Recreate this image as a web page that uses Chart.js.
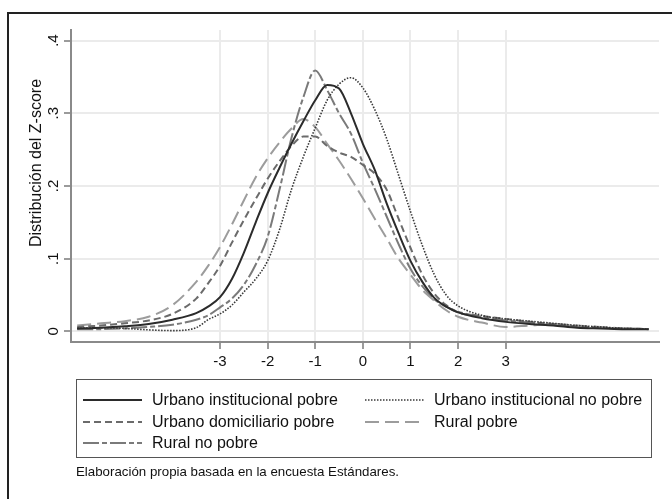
<!DOCTYPE html>
<html>
<head>
<meta charset="utf-8">
<script src="https://cdn.jsdelivr.net/npm/chart.js@4.4.1/dist/chart.umd.min.js"></script>
<style>
  body { margin: 0; background: #fff; font-family: "Liberation Sans", Arial, sans-serif; }
  #frame { position: absolute; left: 7px; top: 12px; width: 700px; height: 520px; border-left: 2px solid #222; border-top: 2px solid #222; }
  #wrap { position: absolute; left: 0; top: 0; width: 672px; height: 380px; }
  #ytitle { position: absolute; left: -64px; top: 153px; width: 200px; height: 20px; line-height: 20px; text-align: center;
    font-size: 16px; color: #111; transform: rotate(-90deg); white-space: nowrap; }
  #legend { position: absolute; left: 76px; top: 379px; width: 576px; height: 79px; box-sizing: border-box; border: 1.5px solid #555; }
  .item { position: absolute; height: 20px; display: flex; align-items: center; font-size: 16px; color: #111; white-space: nowrap; }
  .item svg { margin-right: 10px; }
  #note { position: absolute; left: 76px; top: 464px; font-size: 13.3px; color: #111; }
</style>
</head>
<body>
<div id="frame"></div>
<div id="wrap"><canvas id="chart" width="672" height="380"></canvas></div>
<div id="ytitle">Distribución del Z-score</div>
<div id="legend"></div>
<div id="note">Elaboración propia basada en la encuesta Estándares.</div>
<script>
// z-score grid where each density was read
const zValues = [-6, -5.5, -5, -4.5, -4, -3.5, -3.25, -3, -2.75, -2.5, -2.25, -2, -1.75, -1.5, -1.25, -1,
  -0.75, -0.5, -0.25, 0, 0.25, 0.5, 0.75, 1, 1.25, 1.5, 1.75, 2, 2.5, 3, 3.5, 4, 4.5, 5, 5.5, 6];

const urbInstPobre = [0.004, 0.005, 0.007, 0.010, 0.016, 0.025, 0.034, 0.047, 0.072, 0.108, 0.150, 0.190,
  0.225, 0.258, 0.289, 0.318, 0.339, 0.334, 0.300, 0.258, 0.222, 0.176, 0.135, 0.097, 0.068, 0.046,
  0.034, 0.026, 0.018, 0.013, 0.010, 0.008, 0.005, 0.004, 0.003, 0.003];
const urbInstNoPobre = [0.004, 0.005, 0.004, 0.002, 0.001, 0.005, 0.016, 0.024, 0.036, 0.054, 0.072, 0.097,
  0.140, 0.195, 0.240, 0.280, 0.318, 0.340, 0.349, 0.335, 0.305, 0.265, 0.215, 0.165, 0.118, 0.078,
  0.050, 0.035, 0.022, 0.017, 0.014, 0.011, 0.008, 0.006, 0.004, 0.003];
const urbDomPobre = [0.006, 0.008, 0.011, 0.015, 0.024, 0.045, 0.066, 0.090, 0.122, 0.153, 0.182, 0.210,
  0.234, 0.255, 0.268, 0.268, 0.255, 0.246, 0.240, 0.229, 0.217, 0.195, 0.155, 0.115, 0.078, 0.052,
  0.036, 0.026, 0.021, 0.017, 0.013, 0.010, 0.007, 0.005, 0.004, 0.003];
const ruralPobre = [0.008, 0.011, 0.014, 0.020, 0.036, 0.068, 0.090, 0.116, 0.147, 0.180, 0.212, 0.238,
  0.260, 0.279, 0.292, 0.281, 0.258, 0.235, 0.210, 0.183, 0.155, 0.128, 0.100, 0.078, 0.057, 0.042,
  0.029, 0.020, 0.012, 0.006, 0.008, 0.010, 0.008, 0.006, 0.004, 0.003];
const ruralNoPobre = [0.003, 0.003, 0.004, 0.006, 0.009, 0.016, 0.022, 0.033, 0.045, 0.064, 0.092, 0.130,
  0.195, 0.266, 0.322, 0.359, 0.332, 0.300, 0.272, 0.232, 0.196, 0.158, 0.120, 0.086, 0.062, 0.044,
  0.034, 0.027, 0.020, 0.015, 0.012, 0.010, 0.007, 0.005, 0.004, 0.003];

const seriesNames = ['Urbano institucional pobre', 'Urbano institucional no pobre',
  'Urbano domiciliario pobre', 'Rural pobre', 'Rural no pobre'];
const xTicks = [-3, -2, -1, 0, 1, 2, 3];
const yTicks = [0, 0.1, 0.2, 0.3, 0.4];
const yTickLabels = ['0', '.1', '.2', '.3', '.4'];

const allSeries = [urbInstPobre, urbInstNoPobre, urbDomPobre, ruralPobre, ruralNoPobre];
const lineColors = ['#2b2b2b', '#383838', '#6b6b6b', '#9c9c9c', '#7a7a7a'];
const lineDashes = [[], [1.5, 1.5], [7, 4], [14, 6], [16, 3, 5, 3]];
const lineWidths = [2, 1.6, 2, 2, 2];

const toPoints = (ys) => zValues.map((z, i) => ({ x: z, y: ys[i] }));

const tickFont = { family: '"Liberation Sans", Arial, sans-serif', size: 15 };

const chart = new Chart(document.getElementById('chart'), {
  type: 'line',
  data: {
    datasets: allSeries.map((ys, i) => ({
      label: seriesNames[i],
      data: toPoints(ys),
      borderColor: lineColors[i],
      borderDash: lineDashes[i],
      borderWidth: lineWidths[i],
      pointRadius: 0,
      fill: false,
      cubicInterpolationMode: 'monotone',
    })),
  },
  options: {
    responsive: false,
    animation: false,
    layout: { padding: { left: 20, right: 13, top: 30, bottom: 0 } },
    plugins: { legend: { display: false }, tooltip: { enabled: false } },
    scales: {
      x: {
        type: 'linear',
        min: -6.13,
        max: 6.22,
        afterBuildTicks: (s) => { s.ticks = xTicks.map((v) => ({ value: v })); },
        afterFit: (s) => { s.height = 38; },
        ticks: { font: tickFont, color: '#111', padding: 4, maxRotation: 0, autoSkip: false },
        grid: { color: '#ebebeb', lineWidth: 2, tickColor: '#7a7a7a', tickLength: 7, tickWidth: 1.5 },
        border: { color: '#8a8a8a', width: 2 },
      },
      y: {
        min: -0.0147,
        max: 0.4146,
        afterBuildTicks: (s) => { s.ticks = yTicks.map((v) => ({ value: v })); },
        afterFit: (s) => { s.width = 51; },
        ticks: {
          font: tickFont,
          color: '#111',
          padding: 4,
          minRotation: 90,
          maxRotation: 90,
          crossAlign: 'center',
          callback: (v) => yTickLabels[yTicks.indexOf(v)],
        },
        grid: { color: '#ebebeb', lineWidth: 2, tickColor: '#7a7a7a', tickLength: 7, tickWidth: 1.5 },
        border: { color: '#8a8a8a', width: 2 },
      },
    },
  },
});

// legend box, two columns like the Stata legend
const legend = document.getElementById('legend');
const rowTops = [10, 32, 53];
const colLefts = [6, 288];
chart.data.datasets.forEach((ds, i) => {
  const item = document.createElement('div');
  item.className = 'item';
  item.style.top = rowTops[Math.floor(i / 2)] + 'px';
  item.style.left = colLefts[i % 2] + 'px';
  const dash = ds.borderDash.length ? ds.borderDash.join(' ') : 'none';
  item.innerHTML = '<svg width="59" height="6"><line x1="0" y1="3" x2="59" y2="3" stroke="' + ds.borderColor +
    '" stroke-width="' + ds.borderWidth + '" stroke-dasharray="' + dash + '"/></svg><span>' + ds.label + '</span>';
  legend.appendChild(item);
});
</script>
</body>
</html>
